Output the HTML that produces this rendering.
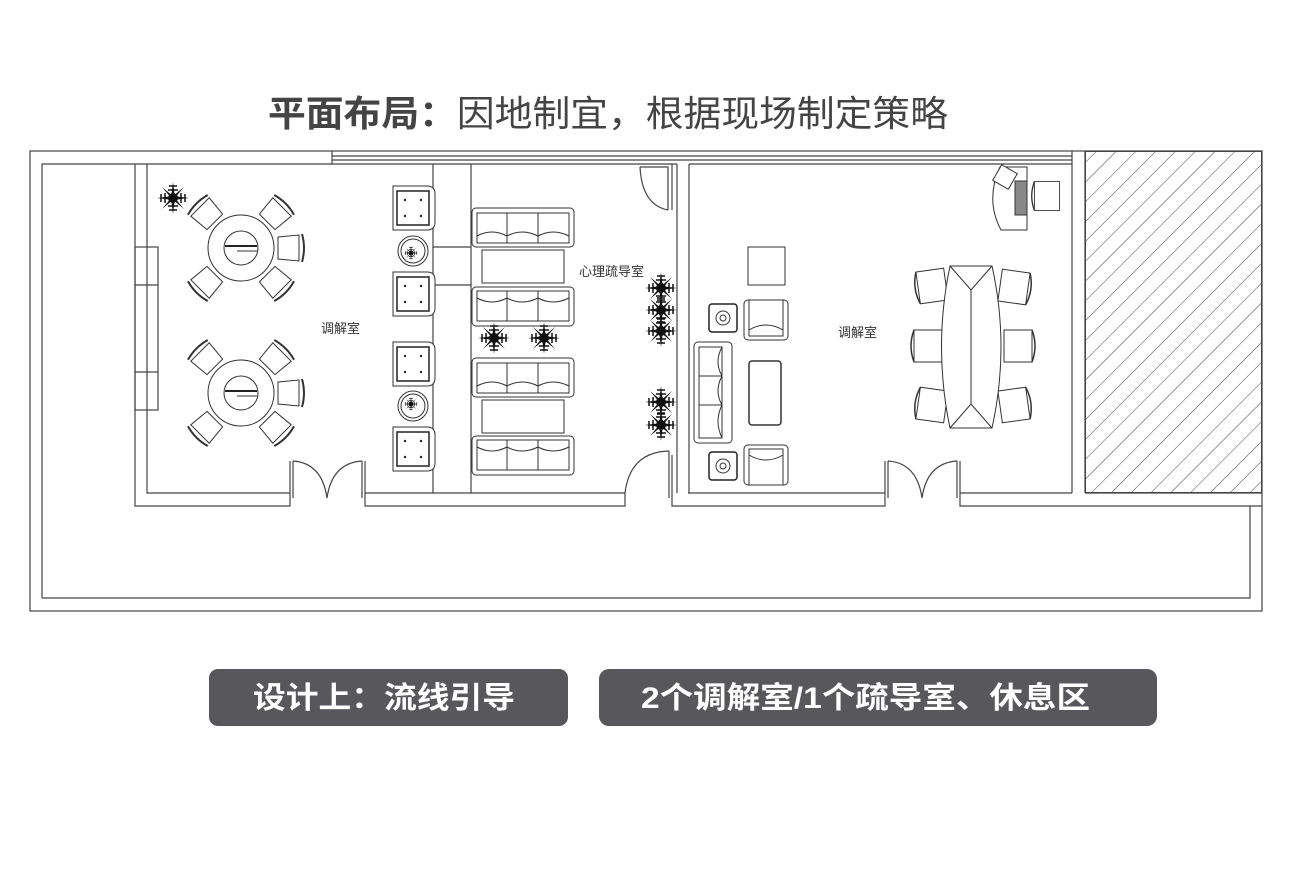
<!DOCTYPE html>
<html><head><meta charset="utf-8"><style>
html,body{margin:0;padding:0;background:#fff;}
svg{display:block;}
</style></head><body>
<svg width="1296" height="879" viewBox="0 0 1296 879" xmlns="http://www.w3.org/2000/svg" font-family="'Liberation Sans','Noto Sans CJK SC',sans-serif">
<defs>
<pattern id="hatch" width="14" height="14" patternUnits="userSpaceOnUse" patternTransform="rotate(45)">
<line x1="0" y1="0" x2="0" y2="14" stroke="#444" stroke-width="1"/>
</pattern>
<g id="rt">
<circle r="33" fill="#fff" stroke="#333"/>
<circle r="17" fill="#fff" stroke="#333"/>
<line x1="-16" y1="-2" x2="16" y2="-2" stroke="#222" stroke-width="2"/>
<line x1="-4" y1="3" x2="16" y2="3" stroke="#333"/>
<g id="ch"><path d="M37,-11 L58,-13 L58,13 L37,11 Z" fill="#fff" stroke="#333"/><path d="M61,-14 Q65,0 61,14" fill="none" stroke="#333" stroke-width="2"/></g>
<use href="#ch" transform="rotate(45)"/><use href="#ch" transform="rotate(-45)"/>
<use href="#ch" transform="rotate(135)"/><use href="#ch" transform="rotate(-135)"/>
</g>
<g id="arm">
<path d="M-20,-22 H14 Q22,-22 22,-14 V14 Q22,22 14,22 H-20 Z" fill="#fff" stroke="#333"/>
<rect x="-16" y="-17" width="32" height="34" fill="#fff" stroke="#222" stroke-width="1.5"/>
<circle cx="-8" cy="-8" r="1.2" fill="#222"/><circle cx="8" cy="-8" r="1.2" fill="#222"/>
<circle cx="-8" cy="8" r="1.2" fill="#222"/><circle cx="8" cy="8" r="1.2" fill="#222"/>
</g>
<g id="sofa3">
<rect x="0" y="0" width="102" height="39" rx="4" fill="#fff" stroke="#333"/>
<rect x="5" y="5" width="92" height="30" fill="#fff" stroke="#333"/>
<line x1="35" y1="5" x2="35" y2="35" stroke="#333"/><line x1="66" y1="5" x2="66" y2="35" stroke="#333"/>
<path d="M5,28 Q20,20 35,28 Q50,20 66,28 Q81,20 97,28" fill="none" stroke="#333"/>
</g>
<g id="plant" fill="#111">
<circle r="5"/>
<path d="M0,-16 L2,0 L-2,0Z M0,16 L2,0 L-2,0Z M-16,0 L0,2 L0,-2Z M16,0 L0,2 L0,-2Z M-11,-11 L1,-1 L-1,1Z M11,11 L1,-1 L-1,1Z M11,-11 L1,1 L-1,-1Z M-11,11 L1,1 L-1,-1Z"/>
<path d="M-4,-12 L4,-12 M-5,-8 L5,-8 M-4,12 L4,12 M-5,8 L5,8 M-12,-4 L-12,4 M-8,-5 L-8,5 M12,-4 L12,4 M8,-5 L8,5" stroke="#111" stroke-width="1.5"/>
</g>
<g id="chair2">
<path d="M-14,-16 H14 V16 H-14 Z" fill="#fff" stroke="#333"/>
<path d="M-14,-16 Q-20,0 -14,16" fill="none" stroke="#333" stroke-width="1.5"/>
</g>
<g id="endt"><rect x="-14" y="-14" width="28" height="28" rx="3" fill="#fff" stroke="#222" stroke-width="1.5"/><circle r="7" fill="none" stroke="#333"/><circle r="3" fill="none" stroke="#333"/></g>
<g id="arm2"><rect x="-22" y="-20" width="44" height="40" rx="4" fill="#fff" stroke="#333"/><path d="M-17,-20 V16 H17 V-20" fill="none" stroke="#333"/><path d="M-17,10 Q0,0 17,10" fill="none" stroke="#333"/></g>
</defs>

<text x="268" y="126" font-size="36" fill="#444" textLength="680" lengthAdjust="spacingAndGlyphs"><tspan font-weight="bold">平面布局：</tspan>因地制宜，根据现场制定策略</text>

<g fill="none" stroke="#444" stroke-width="1.2">
<rect x="30" y="151" width="1232" height="460"/>
<path d="M42,598 V164 H332 V151"/>
<path d="M42,598 H1250 V506"/>
<line x1="332" y1="156" x2="1072" y2="156"/>
<line x1="332" y1="160" x2="1072" y2="160"/>
<line x1="332" y1="164" x2="677" y2="164"/>
<line x1="689" y1="164" x2="1072" y2="164"/>
<path d="M135,164 V506 H290 V461"/>
<path d="M147,164 V493 H290"/>
<path d="M365,461 V506 H625 V493"/>
<path d="M365,493 H625"/>
<path d="M672,493 V506 H885 V461"/>
<path d="M960,461 V506 H1262"/>
<path d="M960,493 H1072 M1085,493 H1262"/>
<path d="M688,493 H885"/>
<line x1="433" y1="164" x2="433" y2="493"/>
<line x1="471" y1="164" x2="471" y2="493"/>
<line x1="433" y1="247" x2="471" y2="247"/>
<line x1="433" y1="285" x2="471" y2="285"/>
<line x1="677" y1="164" x2="677" y2="493"/>
<line x1="689" y1="164" x2="689" y2="493"/>
<line x1="672" y1="164" x2="672" y2="210"/>
<line x1="672" y1="455" x2="672" y2="493"/>
<line x1="1072" y1="151" x2="1072" y2="493"/>
<line x1="1085" y1="151" x2="1085" y2="493"/>
<rect x="135" y="247" width="23" height="163"/>
<line x1="135" y1="285" x2="158" y2="285"/><line x1="135" y1="372" x2="158" y2="372"/>
<path d="M293,461 V498 M293,461 Q322,463 327,498 M362,461 V498 M362,461 Q332,463 327,498"/>
<path d="M888,461 V498 M888,461 Q917,463 922,498 M957,461 V498 M957,461 Q927,463 922,498"/>
<path d="M669,451 V498 M669,451 Q630,452 625,493"/>
<path d="M640,167 H668 V210 M640,167 Q642,205 668,210"/>
</g>
<rect x="1085.5" y="151.5" width="176" height="341" fill="url(#hatch)" stroke="#444"/>

<use href="#rt" x="241" y="248"/>
<use href="#rt" x="241" y="393"/>
<use href="#plant" x="173" y="198"/>

<use href="#arm" x="413" y="208"/>
<use href="#arm" x="413" y="294"/>
<use href="#arm" x="413" y="364"/>
<use href="#arm" x="413" y="449"/>
<circle cx="413" cy="251" r="15" fill="#fff" stroke="#333"/><circle cx="413" cy="251" r="12" fill="none" stroke="#333"/>
<use href="#plant" transform="translate(411 253) scale(0.45)"/>
<circle cx="413" cy="406" r="15" fill="#fff" stroke="#333"/><circle cx="413" cy="406" r="12" fill="none" stroke="#333"/>
<use href="#plant" transform="translate(411 404) scale(0.45)"/>

<use href="#sofa3" x="472" y="208"/>
<rect x="482" y="250" width="82" height="33" fill="#fff" stroke="#333"/>
<use href="#sofa3" x="472" y="326" transform="translate(0 652) scale(1 -1)"/>
<use href="#plant" x="494" y="338"/>
<use href="#plant" x="544" y="338"/>
<use href="#sofa3" x="472" y="358"/>
<rect x="482" y="400" width="82" height="33" fill="#fff" stroke="#333"/>
<use href="#sofa3" x="472" y="475" transform="translate(0 950) scale(1 -1)"/>
<use href="#plant" x="661" y="288"/><use href="#plant" x="661" y="310"/><use href="#plant" x="661" y="331"/>
<use href="#plant" x="661" y="402"/><use href="#plant" x="661" y="425"/>

<text x="579" y="276" font-size="13" fill="#333">心理疏导室</text>
<text x="321" y="333" font-size="13" fill="#333">调解室</text>
<text x="838" y="337" font-size="13" fill="#333">调解室</text>

<rect x="748" y="247" width="37" height="38" fill="#fff" stroke="#333"/>
<use href="#endt" x="723" y="318"/>
<use href="#endt" x="723" y="466"/>
<use href="#arm2" x="766" y="320"/>
<use href="#arm2" x="766" y="465" transform="translate(0 930) scale(1 -1)"/>
<rect x="694" y="342" width="38" height="101" rx="4" fill="#fff" stroke="#333"/>
<path d="M699,347 V438 H722 V347 Z" fill="none" stroke="#333"/>
<path d="M722,347 Q714,362 722,376 Q714,391 722,405 Q714,421 722,438" fill="none" stroke="#333"/>
<line x1="699" y1="376" x2="722" y2="376" stroke="#333"/><line x1="699" y1="405" x2="722" y2="405" stroke="#333"/>
<rect x="749" y="361" width="32" height="64" rx="3" fill="#fff" stroke="#333" stroke-width="1.5"/>
<use href="#chair2" transform="translate(932 286) rotate(-8)"/>
<use href="#chair2" transform="translate(928 346)"/>
<use href="#chair2" transform="translate(932 405) rotate(8)"/>
<use href="#chair2" transform="translate(1014 287) scale(-1 1) rotate(-8)"/>
<use href="#chair2" transform="translate(1018 346) scale(-1 1)"/>
<use href="#chair2" transform="translate(1014 405) scale(-1 1) rotate(8)"/>
<path d="M950,266 H992 Q1010,347 992,428 H950 Q933,347 950,266 Z" fill="#fff" stroke="#333"/>
<path d="M950,266 L971,290 L992,266 M971,290 V404 M950,428 L971,404 L992,428" fill="none" stroke="#333"/>
<path d="M1000,167 H1027 V230 H1001 Q985,200 1000,167 Z" fill="#fff" stroke="#333"/>
<rect x="1015" y="181" width="12" height="34" fill="#888" stroke="#333"/>
<rect x="996" y="168" width="18" height="18" fill="#fff" stroke="#333" transform="rotate(30 1005 177)"/>
<use href="#chair2" transform="translate(1047 196) scale(0.9)"/>

<rect x="209" y="669" width="359" height="57" rx="9" fill="#58575b"/>
<text x="253" y="708" font-size="30" font-weight="bold" fill="#fff" textLength="262" lengthAdjust="spacingAndGlyphs">设计上：流线引导</text>
<rect x="599" y="669" width="558" height="57" rx="10" fill="#58575b"/>
<text x="641" y="708" font-size="30" font-weight="bold" fill="#fff" textLength="449" lengthAdjust="spacingAndGlyphs">2个调解室/1个疏导室、休息区</text>
</svg>
</body></html>
